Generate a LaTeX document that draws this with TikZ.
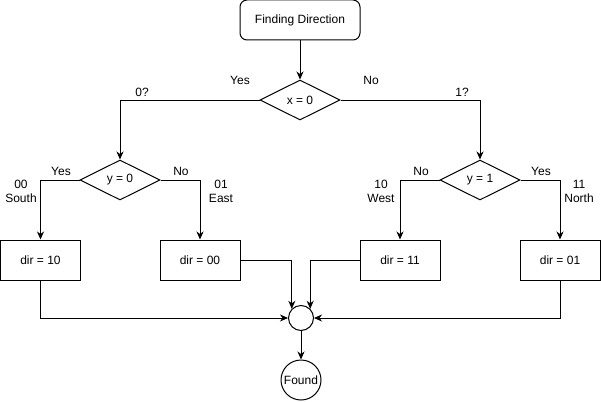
\documentclass[tikz,border=0pt]{standalone}
\usepackage{fontspec}
\setmainfont{Liberation Sans}
\usetikzlibrary{shapes.geometric,arrows.meta}
\begin{document}
\begin{tikzpicture}[x=1pt,y=-1pt,
  every node/.style={font=\fontsize{12}{14}\selectfont, inner sep=0pt},
  line/.style={line width=1pt},
  arr/.style={line width=1pt,-{Stealth[length=8pt,width=7pt,inset=2.5pt]}},
  startbox/.style={draw,line width=1pt,rounded corners=7pt,minimum width=120pt,minimum height=40pt},
  decision/.style={draw,line width=1pt,diamond,aspect=2,minimum width=80pt,minimum height=40pt},
  action/.style={draw,line width=1pt,rectangle,minimum width=80pt,minimum height=40pt},
  lbl/.style={align=center}]
\useasboundingbox (0,0) rectangle (601,401);
\node[startbox] (start) at (300,20) {Finding Direction};
\node[decision] (dx) at (300,100) {x = 0};
\node[decision] (dy0) at (120,180) {y = 0};
\node[decision] (dy1) at (480,180) {y = 1};
\node[action] (b10) at (40.5,260) {dir = 10};
\node[action] (b00) at (200,260) {dir = 00};
\node[action] (b11) at (400,260) {dir = 11};
\node[action] (b01) at (560,260) {dir = 01};
\node[draw,line width=1pt,circle,minimum size=25pt] (m) at (301,318) {};
\node[draw,line width=1pt,circle,minimum size=40pt] (found) at (301,380) {Found};
\draw[arr] (start) -- (dx);
\draw[arr] (dx.west) -| (dy0.north);
\draw[arr] (dx.east) -| (dy1.north);
\draw[arr] (dy0.west) -| (b10.north);
\draw[arr] (dy0.east) -| (b00.north);
\draw[arr] (dy1.west) -| (b11.north);
\draw[arr] (dy1.east) -| (b01.north);
\draw[arr] (b10.south) |- (m.west);
\draw[arr] (b01.south) |- (m.east);
\draw[arr] (b00.east) -| (m.north west);
\draw[arr] (b11.west) -| (m.north east);
\draw[arr] (m) -- (found);
\node[lbl] (l1) at (240,80) {Yes};
\node[lbl] (l2) at (142,92) {0?};
\node[lbl] (l3) at (371,80) {No};
\node[lbl] (l4) at (462,92) {1?};
\node[lbl] (l5) at (61,171) {Yes};
\node[lbl] (l6) at (21,191) {00\\South};
\node[lbl] (l7) at (181,171) {No};
\node[lbl] (l8) at (221,191) {01\\East};
\node[lbl] (l9) at (421,171) {No};
\node[lbl] (l10) at (381,191) {10\\West};
\node[lbl] (l11) at (541,171) {Yes};
\node[lbl] (l12) at (579,191) {11\\North};
\end{tikzpicture}
\end{document}
